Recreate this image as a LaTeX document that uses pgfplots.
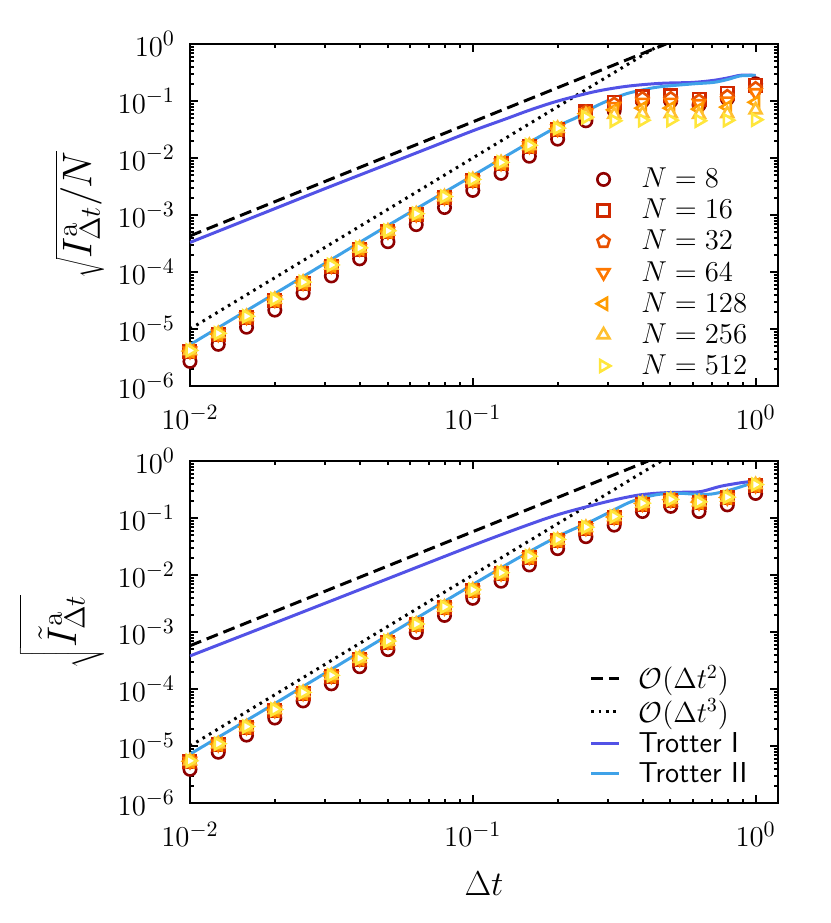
\documentclass[border=0pt]{standalone}
\usepackage{pgfplots}
\pgfplotsset{compat=1.18}
\usepackage{pgfplotstable}
\definecolor{c8}{HTML}{8E0000}
\definecolor{c16}{HTML}{D02800}
\definecolor{c32}{HTML}{E85000}
\definecolor{c64}{HTML}{FF7800}
\definecolor{c128}{HTML}{FF9C00}
\definecolor{c256}{HTML}{FFC030}
\definecolor{c512}{HTML}{FFE63C}
\definecolor{trotI}{HTML}{5252E6}
\definecolor{trotII}{HTML}{3FA2E8}

\pgfplotstableread{
x n8 n16 n32 n64 n128 n256 n512
0.01 2.70e-6 4.00e-6 4.05e-6 4.10e-6 4.10e-6 4.15e-6 4.20e-6
0.012589 5.39e-6 7.98e-6 8.08e-6 8.18e-6 8.18e-6 8.28e-6 8.38e-6
0.015849 1.075e-5 1.592e-5 1.612e-5 1.632e-5 1.632e-5 1.652e-5 1.672e-5
0.019953 2.145e-5 3.177e-5 3.217e-5 3.257e-5 3.257e-5 3.296e-5 3.336e-5
0.025119 4.279e-5 6.340e-5 6.419e-5 6.498e-5 6.498e-5 6.577e-5 6.657e-5
0.031623 8.538e-5 1.265e-4 1.281e-4 1.297e-4 1.297e-4 1.312e-4 1.328e-4
0.039811 1.704e-4 2.524e-4 2.555e-4 2.587e-4 2.587e-4 2.618e-4 2.650e-4
0.050119 3.399e-4 5.036e-4 5.099e-4 5.161e-4 5.161e-4 5.224e-4 5.287e-4
0.063096 6.782e-4 1.005e-3 1.017e-3 1.030e-3 1.030e-3 1.042e-3 1.055e-3
0.079433 1.353e-3 2.005e-3 2.030e-3 2.055e-3 2.055e-3 2.080e-3 2.105e-3
0.1 2.70e-3 4.00e-3 4.05e-3 4.10e-3 4.10e-3 4.15e-3 4.20e-3
0.12589 5.387e-3 7.981e-3 8.081e-3 8.181e-3 8.181e-3 8.280e-3 8.380e-3
0.15849 1.075e-2 1.592e-2 1.612e-2 1.632e-2 1.632e-2 1.652e-2 1.672e-2
0.19953 2.145e-2 3.177e-2 3.217e-2 3.257e-2 3.257e-2 3.296e-2 3.336e-2
0.25119 0.045 0.065 0.064 0.062 0.060 0.057 0.052
0.31623 0.068 0.095 0.088 0.080 0.070 0.058 0.045
0.39811 0.10 0.12 0.11 0.095 0.075 0.060 0.046
0.50119 0.10 0.125 0.11 0.095 0.075 0.060 0.046
0.63096 0.085 0.108 0.10 0.09 0.072 0.058 0.045
0.79433 0.11 0.137 0.12 0.10 0.078 0.060 0.046
1.0 0.20 0.19 0.165 0.14 0.095 0.070 0.047
}\topdata

\pgfplotstableread{
x n8 n16 n32 n64 n128 n256 n512
0.01 3.90e-6 5.30e-6 5.35e-6 5.40e-6 5.40e-6 5.45e-6 5.50e-6
0.012589 7.78e-6 1.058e-5 1.067e-5 1.077e-5 1.077e-5 1.087e-5 1.097e-5
0.015849 1.553e-5 2.110e-5 2.130e-5 2.150e-5 2.150e-5 2.170e-5 2.190e-5
0.019953 3.098e-5 4.210e-5 4.250e-5 4.289e-5 4.289e-5 4.329e-5 4.369e-5
0.025119 6.181e-5 8.400e-5 8.479e-5 8.558e-5 8.558e-5 8.638e-5 8.717e-5
0.031623 1.233e-4 1.676e-4 1.692e-4 1.708e-4 1.708e-4 1.723e-4 1.739e-4
0.039811 2.461e-4 3.344e-4 3.376e-4 3.407e-4 3.407e-4 3.439e-4 3.470e-4
0.050119 4.910e-4 6.672e-4 6.735e-4 6.798e-4 6.798e-4 6.861e-4 6.924e-4
0.063096 9.796e-4 1.331e-3 1.344e-3 1.356e-3 1.356e-3 1.369e-3 1.382e-3
0.079433 1.955e-3 2.656e-3 2.681e-3 2.706e-3 2.706e-3 2.731e-3 2.757e-3
0.1 3.90e-3 5.30e-3 5.35e-3 5.40e-3 5.40e-3 5.45e-3 5.50e-3
0.12589 7.782e-3 1.058e-2 1.067e-2 1.077e-2 1.077e-2 1.087e-2 1.097e-2
0.15849 1.50e-2 2.05e-2 2.07e-2 2.09e-2 2.09e-2 2.11e-2 2.13e-2
0.19953 0.029 0.040 0.040 0.041 0.041 0.041 0.042
0.25119 0.047 0.066 0.067 0.067 0.068 0.068 0.069
0.31623 0.075 0.102 0.103 0.104 0.104 0.105 0.106
0.39811 0.13 0.175 0.177 0.178 0.18 0.181 0.182
0.50119 0.16 0.205 0.207 0.208 0.21 0.211 0.212
0.63096 0.13 0.185 0.187 0.188 0.19 0.191 0.192
0.79433 0.17 0.225 0.227 0.228 0.23 0.231 0.232
1.0 0.27 0.37 0.373 0.376 0.38 0.383 0.386
}\botdata

\tikzset{
  dashln/.style={black, line width=1.5pt, dash pattern=on 6pt off 3pt},
  dotln/.style={black, line width=1.5pt, dash pattern=on 1.3pt off 2.4pt},
  tI/.style={trotI, line width=1.5pt},
  tII/.style={trotII, line width=1.5pt},
}

\begin{document}
\begin{tikzpicture}
\path[use as bounding box] (-95pt,-60pt) rectangle (320.5pt,401.5pt);

% ---------------- top panel ----------------
\begin{axis}[
  scale only axis, width=294pt, height=171pt,
  xmode=log, ymode=log,
  xmin=0.01, xmax=1.2, ymin=1e-6, ymax=1,
  xtick={0.01,0.1,1},
  ytick={1e-6,1e-5,1e-4,1e-3,1e-2,1e-1,1},
  tick align=inside,
  major tick length=4pt, minor tick length=2.2pt,
  every tick/.style={black, line width=1pt},
  axis line style={line width=1.3pt},
  tick label style={font=\fontsize{15}{18}\selectfont},
  xticklabel style={yshift=-6pt},
  yticklabel style={xshift=-4pt},
  ylabel style={font=\fontsize{22}{26}\selectfont},
  legend cell align=left,
  at={(0pt,208.5pt)}, anchor=south west,
  ylabel={$\sqrt{I^{\mathrm{a}}_{\Delta t}/N}$},
  legend style={draw=none, fill=none, font=\Large, inner sep=0pt, outer sep=0pt,
    at={(0.951,0.643)}, anchor=north east, row sep=2.2pt,
    nodes={inner sep=1pt},
    /tikz/every odd column/.append style={column sep=14.5pt}},
  legend image code/.code={\draw[#1] plot coordinates {(0pt,0pt)};},
]
\addplot[dashln, forget plot] coordinates {(0.01,4.3e-4) (0.4822,1)};
\addplot[dotln, forget plot] coordinates {(0.01,1.0e-5) (0.4642,1)};
\addplot[tI, smooth, forget plot] coordinates {
(0.01,3.3e-4) (0.02,1.3e-3) (0.03,2.9e-3) (0.05,7.8e-3) (0.07,0.015)
(0.1,0.030) (0.13,0.048) (0.16,0.070) (0.2,0.100) (0.27,0.146)
(0.35,0.181) (0.46,0.204) (0.6,0.212) (0.71,0.230) (0.8,0.255)
(0.88,0.282) (0.95,0.285) (1.0,0.28)};
\addplot[tII, smooth, forget plot] coordinates {
(0.01,5.3e-6) (0.02,4.2e-5) (0.05,6.5e-4) (0.1,4.9e-3) (0.15,0.016)
(0.204,0.038) (0.234,0.052) (0.268,0.078) (0.307,0.106) (0.351,0.135)
(0.402,0.158) (0.461,0.178) (0.603,0.200) (0.711,0.212) (0.8,0.24)
(0.885,0.276) (1.0,0.28)};
\addplot[only marks, mark=*, mark size=3.1pt, mark options={draw=c8, fill=white, line width=1.3pt}] table[x=x, y=n8] {\topdata};
\addlegendentry{$N=8$}
\addplot[only marks, mark=square*, mark size=3.1pt, mark options={draw=c16, fill=white, line width=1.3pt}] table[x=x, y=n16] {\topdata};
\addlegendentry{$N=16$}
\addplot[only marks, mark=pentagon*, mark size=3.2pt, mark options={draw=c32, fill=white, line width=1.3pt}] table[x=x, y=n32] {\topdata};
\addlegendentry{$N=32$}
\addplot[only marks, mark=triangle*, mark size=3.4pt, mark options={draw=c64, fill=white, line width=1.3pt, rotate=180}] table[x=x, y=n64] {\topdata};
\addlegendentry{$N=64$}
\addplot[only marks, mark=triangle*, mark size=3.4pt, mark options={draw=c128, fill=white, line width=1.3pt, rotate=90}] table[x=x, y=n128] {\topdata};
\addlegendentry{$N=128$}
\addplot[only marks, mark=triangle*, mark size=3.4pt, mark options={draw=c256, fill=white, line width=1.3pt}] table[x=x, y=n256] {\topdata};
\addlegendentry{$N=256$}
\addplot[only marks, mark=triangle*, mark size=3.4pt, mark options={draw=c512, fill=white, line width=1.3pt, rotate=-90}] table[x=x, y=n512] {\topdata};
\addlegendentry{$N=512$}
\end{axis}

% ---------------- bottom panel ----------------
\begin{axis}[
  scale only axis, width=294pt, height=171pt,
  xmode=log, ymode=log,
  xmin=0.01, xmax=1.2, ymin=1e-6, ymax=1,
  xtick={0.01,0.1,1},
  ytick={1e-6,1e-5,1e-4,1e-3,1e-2,1e-1,1},
  tick align=inside,
  major tick length=4pt, minor tick length=2.2pt,
  every tick/.style={black, line width=1pt},
  axis line style={line width=1.3pt},
  tick label style={font=\fontsize{15}{18}\selectfont},
  xticklabel style={yshift=-6pt},
  yticklabel style={xshift=-4pt},
  ylabel style={font=\fontsize{22}{26}\selectfont},
  legend cell align=left,
  at={(0pt,0pt)}, anchor=south west,
  ylabel={$\sqrt{\tilde{I}^{\mathrm{a}}_{\Delta t}\rule[-0.55em]{0pt}{1.7em}}$},
  xlabel={$\Delta t$},
  xlabel style={font=\fontsize{19}{23}\selectfont, yshift=-6pt},
  legend style={draw=none, fill=none, font=\Large, inner sep=0pt, outer sep=0pt,
    at={(0.951,0.408)}, anchor=north east, row sep=1.5pt,
    nodes={inner sep=1pt},
    /tikz/every odd column/.append style={column sep=8pt}},
  legend image code/.code={\draw[#1] (0pt,0pt) -- (14pt,0pt);},
]
\addplot[dashln] coordinates {(0.01,5.75e-4) (0.417,1)};
\addlegendentry{$\mathcal{O}(\Delta t^2)$}
\addplot[dotln] coordinates {(0.01,1.0e-5) (0.4642,1)};
\addlegendentry{$\mathcal{O}(\Delta t^3)$}
\addplot[tI, smooth] coordinates {
(0.01,3.8e-4) (0.02,1.45e-3) (0.05,8.6e-3) (0.1,0.033) (0.15,0.07)
(0.204,0.118) (0.3,0.195) (0.381,0.25) (0.461,0.275) (0.55,0.283)
(0.638,0.29) (0.752,0.36) (0.885,0.415) (1.0,0.445)};
\addlegendentry{\textsf{Trotter I}}
\addplot[tII, smooth] coordinates {
(0.01,7.2e-6) (0.02,5.6e-5) (0.05,8.7e-4) (0.1,6.8e-3) (0.15,0.022)
(0.204,0.05) (0.268,0.092) (0.351,0.18) (0.402,0.228) (0.461,0.262)
(0.55,0.27) (0.603,0.262) (0.693,0.262) (0.794,0.30) (0.885,0.352) (1.0,0.43)};
\addlegendentry{\textsf{Trotter II}}
\addplot[only marks, mark=*, mark size=3.1pt, mark options={draw=c8, fill=white, line width=1.3pt}, forget plot] table[x=x, y=n8] {\botdata};
\addplot[only marks, mark=square*, mark size=3.1pt, mark options={draw=c16, fill=white, line width=1.3pt}, forget plot] table[x=x, y=n16] {\botdata};
\addplot[only marks, mark=pentagon*, mark size=3.2pt, mark options={draw=c32, fill=white, line width=1.3pt}, forget plot] table[x=x, y=n32] {\botdata};
\addplot[only marks, mark=triangle*, mark size=3.4pt, mark options={draw=c64, fill=white, line width=1.3pt, rotate=180}, forget plot] table[x=x, y=n64] {\botdata};
\addplot[only marks, mark=triangle*, mark size=3.4pt, mark options={draw=c128, fill=white, line width=1.3pt, rotate=90}, forget plot] table[x=x, y=n128] {\botdata};
\addplot[only marks, mark=triangle*, mark size=3.4pt, mark options={draw=c256, fill=white, line width=1.3pt}, forget plot] table[x=x, y=n256] {\botdata};
\addplot[only marks, mark=triangle*, mark size=3.4pt, mark options={draw=c512, fill=white, line width=1.3pt, rotate=-90}, forget plot] table[x=x, y=n512] {\botdata};
\end{axis}
\end{tikzpicture}
\end{document}
